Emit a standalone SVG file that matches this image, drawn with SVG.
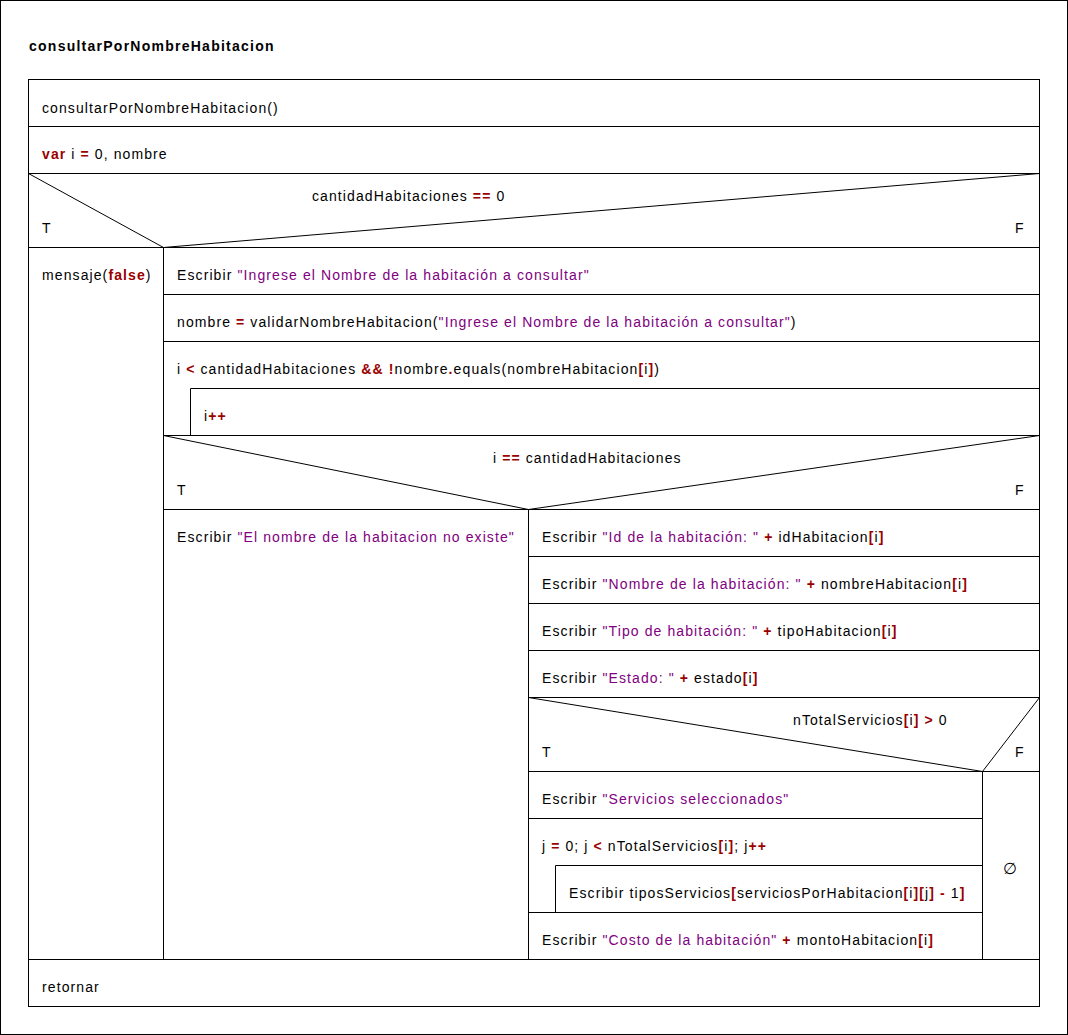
<svg xmlns="http://www.w3.org/2000/svg" width="1068" height="1035" viewBox="0 0 1068 1035">
<style>
.t{font-family:"Liberation Sans",Arial,sans-serif;font-size:14px;letter-spacing:1.1px;fill:#000}
.h{font-weight:bold;letter-spacing:1.25px}
.k{font-weight:bold;fill:#990000}
.s{fill:#800080}
.l{stroke:#000;stroke-width:1;fill:none}
</style>
<rect x="0" y="0" width="1068" height="1035" fill="#fff"/>
<rect class="l" x="0.5" y="0.5" width="1067" height="1034"/>
<text class="t h" x="29" y="51">consultarPorNombreHabitacion</text>
<g id="frame">
<rect class="l" x="28.5" y="79.5" width="1011" height="927"/>
</g>
<g id="n_header">
<line class="l" x1="28.5" y1="126.5" x2="1039.5" y2="126.5"/>
<text class="t" x="42" y="113">consultarPorNombreHabitacion()</text>
</g>
<g id="n_var">
<line class="l" x1="28.5" y1="173.5" x2="1039.5" y2="173.5"/>
<text class="t" x="42" y="159"><tspan class="k">var</tspan> i <tspan class="k">=</tspan> 0, nombre</text>
</g>
<g id="n_if1">
<line class="l" x1="28.5" y1="247.5" x2="1039.5" y2="247.5"/>
<polyline class="l" points="28.5,173.5 163.5,247.5 1039.5,173.5"/>
<text class="t" x="312" y="201">cantidadHabitaciones <tspan class="k">==</tspan> 0</text>
<text class="t" x="42" y="233">T</text>
<text class="t" x="1015" y="233">F</text>
<line class="l" x1="163.5" y1="247.5" x2="163.5" y2="959.5"/>
</g>
<g id="n_mensaje">
<text class="t" x="42" y="280">mensaje(<tspan class="k">false</tspan>)</text>
</g>
<g id="n_escribir1">
<line class="l" x1="163.5" y1="294.5" x2="1039.5" y2="294.5"/>
<text class="t" x="177" y="280">Escribir <tspan class="s">"Ingrese el Nombre de la habitación a consultar"</tspan></text>
</g>
<g id="n_nombre">
<line class="l" x1="163.5" y1="341.5" x2="1039.5" y2="341.5"/>
<text class="t" x="177" y="327">nombre <tspan class="k">=</tspan> validarNombreHabitacion(<tspan class="s">"Ingrese el Nombre de la habitación a consultar"</tspan>)</text>
</g>
<g id="n_while">
<text class="t" x="177" y="374">i <tspan class="k">&lt;</tspan> cantidadHabitaciones <tspan class="k">&amp;&amp;</tspan> <tspan class="k">!</tspan>nombre<tspan class="k">.</tspan>equals(nombreHabitacion<tspan class="k">[</tspan>i<tspan class="k">]</tspan>)</text>
<line class="l" x1="190.5" y1="388.5" x2="1039.5" y2="388.5"/>
<line class="l" x1="190.5" y1="388.5" x2="190.5" y2="435.5"/>
<line class="l" x1="163.5" y1="435.5" x2="1039.5" y2="435.5"/>
</g>
<g id="n_inc">
<text class="t" x="204" y="421">i<tspan class="k">++</tspan></text>
</g>
<g id="n_if2">
<polyline class="l" points="163.5,435.5 528.5,509.5 1039.5,435.5"/>
<line class="l" x1="163.5" y1="509.5" x2="1039.5" y2="509.5"/>
<text class="t" x="493" y="463">i <tspan class="k">==</tspan> cantidadHabitaciones</text>
<text class="t" x="177" y="495">T</text>
<text class="t" x="1015" y="495">F</text>
<line class="l" x1="528.5" y1="509.5" x2="528.5" y2="959.5"/>
</g>
<g id="n_noexiste">
<text class="t" x="177" y="542">Escribir <tspan class="s">"El nombre de la habitacion no existe"</tspan></text>
</g>
<g id="n_id">
<line class="l" x1="528.5" y1="556.5" x2="1039.5" y2="556.5"/>
<text class="t" x="542" y="542">Escribir <tspan class="s">"Id de la habitación: "</tspan> <tspan class="k">+</tspan> idHabitacion<tspan class="k">[</tspan>i<tspan class="k">]</tspan></text>
</g>
<g id="n_nom">
<line class="l" x1="528.5" y1="603.5" x2="1039.5" y2="603.5"/>
<text class="t" x="542" y="589">Escribir <tspan class="s">"Nombre de la habitación: "</tspan> <tspan class="k">+</tspan> nombreHabitacion<tspan class="k">[</tspan>i<tspan class="k">]</tspan></text>
</g>
<g id="n_tipo">
<line class="l" x1="528.5" y1="650.5" x2="1039.5" y2="650.5"/>
<text class="t" x="542" y="636">Escribir <tspan class="s">"Tipo de habitación: "</tspan> <tspan class="k">+</tspan> tipoHabitacion<tspan class="k">[</tspan>i<tspan class="k">]</tspan></text>
</g>
<g id="n_estado">
<line class="l" x1="528.5" y1="697.5" x2="1039.5" y2="697.5"/>
<text class="t" x="542" y="683">Escribir <tspan class="s">"Estado: "</tspan> <tspan class="k">+</tspan> estado<tspan class="k">[</tspan>i<tspan class="k">]</tspan></text>
</g>
<g id="n_if3">
<polyline class="l" points="528.5,697.5 982.5,771.5 1039.5,697.5"/>
<line class="l" x1="528.5" y1="771.5" x2="1039.5" y2="771.5"/>
<text class="t" x="793" y="725">nTotalServicios<tspan class="k">[</tspan>i<tspan class="k">]</tspan> <tspan class="k">&gt;</tspan> 0</text>
<text class="t" x="542" y="757">T</text>
<text class="t" x="1015" y="757">F</text>
<line class="l" x1="982.5" y1="771.5" x2="982.5" y2="959.5"/>
</g>
<g id="n_servicios">
<line class="l" x1="528.5" y1="818.5" x2="982.5" y2="818.5"/>
<text class="t" x="542" y="804">Escribir <tspan class="s">"Servicios seleccionados"</tspan></text>
</g>
<g id="n_for">
<text class="t" x="542" y="851">j <tspan class="k">=</tspan> 0; j <tspan class="k">&lt;</tspan> nTotalServicios<tspan class="k">[</tspan>i<tspan class="k">]</tspan>; j<tspan class="k">++</tspan></text>
<line class="l" x1="555.5" y1="865.5" x2="982.5" y2="865.5"/>
<line class="l" x1="555.5" y1="865.5" x2="555.5" y2="912.5"/>
<line class="l" x1="528.5" y1="912.5" x2="982.5" y2="912.5"/>
</g>
<g id="n_tipos">
<text class="t" x="569" y="898">Escribir tiposServicios<tspan class="k">[</tspan>serviciosPorHabitacion<tspan class="k">[</tspan>i<tspan class="k">][</tspan>j<tspan class="k">]</tspan> <tspan class="k">-</tspan> 1<tspan class="k">]</tspan></text>
</g>
<g id="n_costo">
<text class="t" x="542" y="945">Escribir <tspan class="s">"Costo de la habitación"</tspan> <tspan class="k">+</tspan> montoHabitacion<tspan class="k">[</tspan>i<tspan class="k">]</tspan></text>
</g>
<g id="n_empty">
<text class="t" x="1010" y="874" text-anchor="middle" style="font-size:16px;letter-spacing:0">∅</text>
</g>
<g id="n_retornar">
<line class="l" x1="28.5" y1="959.5" x2="1039.5" y2="959.5"/>
<text class="t" x="42" y="992">retornar</text>
</g>
</svg>
